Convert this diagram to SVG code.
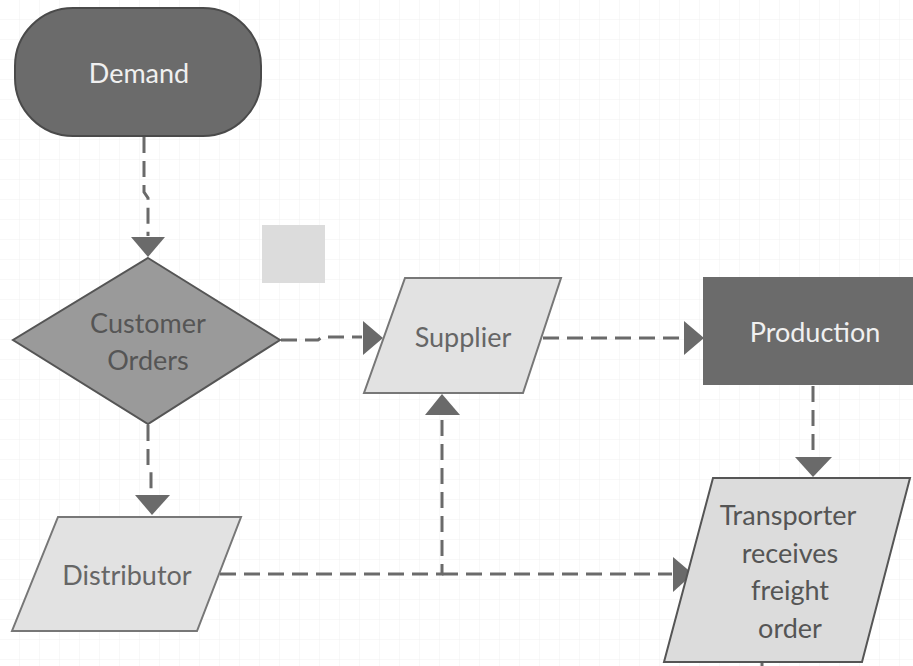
<svg xmlns="http://www.w3.org/2000/svg" width="913" height="666" viewBox="0 0 913 666">
<defs>
<pattern id="grid" width="20" height="20" patternUnits="userSpaceOnUse">
<path d="M20 0V20H0" fill="none" stroke="#f1f1f1" stroke-width="1"/>
</pattern>
<style>
.lbl{font-family:Lato,"Open Sans","Liberation Sans",sans-serif;font-size:27px;text-anchor:middle}
.light{fill:#f0f0f0}
.conn{fill:none;stroke:#6a6a6a;stroke-width:3;stroke-dasharray:16 8}
.head{fill:#6a6a6a}
</style>
</defs>
<rect width="913" height="666" fill="#ffffff"/>
<rect width="913" height="666" fill="url(#grid)"/>
<rect x="262" y="225" width="63" height="58" fill="#dcdcdc"/>

<g id="connectors">
<path class="conn" d="M144 137V192L148 198V236"/>
<polygon class="head" points="131,237 165,237 148,257"/>
<path class="conn" d="M281 340H318L322 337H362"/>
<polygon class="head" points="363,321 363,355 383,338"/>
<path class="conn" d="M543 338H684"/>
<polygon class="head" points="684,321 684,355 704,338"/>
<path class="conn" d="M813 386V456"/>
<polygon class="head" points="795,457 832,457 813,477"/>
<path class="conn" d="M148 425V465L151 470V494"/>
<polygon class="head" points="135,495 170,495 152,515"/>
<path class="conn" d="M220 574H442V416"/>
<polygon class="head" points="425,415 460,415 442,394"/>
<path class="conn" d="M442 574H672"/>
<polygon class="head" points="673,557 673,592 693,574"/>
<path d="M762 662V666" stroke="#6a6a6a" stroke-width="3"/>
</g>

<g id="demand">
<rect x="15" y="8" width="246" height="128" rx="58" ry="58" fill="#6b6b6b" stroke="#4a4a4a" stroke-width="2"/>
<text class="lbl light" x="139" y="83">Demand</text>
</g>

<g id="customer-orders">
<polygon points="148,258 280,340 148,424 13,340" fill="#9a9a9a" stroke="#555" stroke-width="2"/>
<text class="lbl" fill="#555" x="148" y="333">Customer</text>
<text class="lbl" fill="#555" x="148" y="370">Orders</text>
</g>

<g id="supplier">
<polygon points="405,278 561,278 523,393 364,393" fill="#e2e2e2" stroke="#777" stroke-width="2"/>
<text class="lbl" fill="#666" x="463" y="347">Supplier</text>
</g>

<g id="production">
<rect x="703" y="277" width="212" height="108" fill="#6b6b6b"/>
<text class="lbl light" x="815" y="342">Production</text>
</g>

<g id="distributor">
<polygon points="58,517 241,517 197,631 12,631" fill="#e2e2e2" stroke="#777" stroke-width="2"/>
<text class="lbl" fill="#666" x="127" y="585">Distributor</text>
</g>

<g id="transporter">
<polygon points="713,478 910,478 862,662 664,662" fill="#dcdcdc" stroke="#555" stroke-width="2"/>
<text class="lbl" fill="#555" x="788" y="525">Transporter</text>
<text class="lbl" fill="#555" x="790" y="563">receives</text>
<text class="lbl" fill="#555" x="790" y="600">freight</text>
<text class="lbl" fill="#555" x="790" y="638">order</text>
</g>
</svg>
